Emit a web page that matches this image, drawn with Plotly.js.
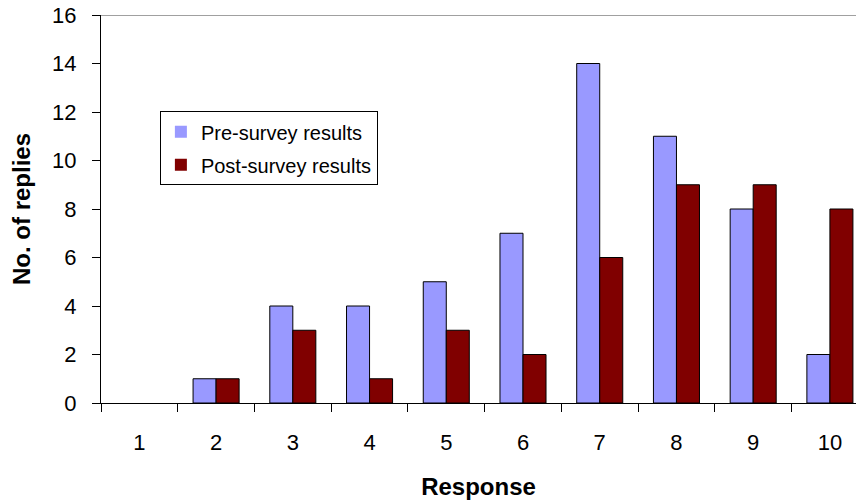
<!DOCTYPE html>
<html>
<head>
<meta charset="utf-8">
<script src="https://cdn.plot.ly/plotly-3.0.1.min.js"></script>
<style>html,body{margin:0;padding:0;background:#fff;}#chart{width:856px;height:504px;}</style>
</head>
<body>
<div id="chart"></div>
<script>
const categories = ["1","2","3","4","5","6","7","8","9","10"];
const preSurvey = [0, 1, 4, 4, 5, 7, 14, 11, 8, 2];
const postSurvey = [0, 1, 3, 1, 3, 2, 6, 9, 9, 8];
const seriesNames = ["Pre-survey results", "Post-survey results"];
const yTicks = [0, 2, 4, 6, 8, 10, 12, 14, 16];

const font = "Liberation Sans, Arial, sans-serif";
// no outline drawn for empty (zero) bars
const outline = vals => vals.map(v => (v > 0 ? 1 : 0));
const data = [
  {type: "bar", x: categories, y: preSurvey, name: seriesNames[0], legendgroup: "a",
   marker: {color: "#9999FF", line: {color: "#000", width: outline(preSurvey)}}},
  {type: "bar", x: categories, y: postSurvey, name: seriesNames[1], legendgroup: "b",
   marker: {color: "#800000", line: {color: "#000", width: outline(postSurvey)}}}
];
const layout = {
  width: 856, height: 504,
  margin: {l: 101, r: 0, t: 15, b: 101, pad: 0},
  paper_bgcolor: "#fff", plot_bgcolor: "#fff",
  barmode: "group", bargap: 0.4, bargroupgap: 0,
  font: {family: font, color: "#000", size: 22},
  showlegend: true,
  legend: {x: 0.078, y: 0.752, xanchor: "left", yanchor: "top",
    bordercolor: "#000", borderwidth: 1, bgcolor: "#fff",
    traceorder: "grouped", tracegroupgap: 4, itemwidth: 30,
    font: {family: font, size: 20, color: "#000"}},
  xaxis: {type: "category", range: [-0.5, 9.34], tickson: "boundaries",
    ticks: "outside", ticklen: 8, tickcolor: "#000", tickwidth: 1,
    showline: true, linecolor: "#000", linewidth: 1, showgrid: false,
    ticklabelstandoff: 20,
    tickfont: {family: font, size: 22},
    title: {text: "<b>Response</b>", font: {family: font, size: 24}, standoff: 23}},
  yaxis: {range: [0, 16], tickvals: yTicks, ticks: "outside", ticklen: 8,
    tickcolor: "#000", tickwidth: 1, showline: true, linecolor: "#000", linewidth: 1,
    showgrid: false, zeroline: false, ticklabelstandoff: 11,
    tickfont: {family: font, size: 22},
    title: {text: "<b>No. of replies</b>", font: {family: font, size: 24}, standoff: 14}},
  shapes: [{type: "line", xref: "paper", yref: "y", x0: 0, x1: 1, y0: 16, y1: 16,
    line: {color: "#808080", width: 1.5}}]
};
Plotly.newPlot("chart", data, layout, {displayModeBar: false, staticPlot: true});
</script>
</body>
</html>
